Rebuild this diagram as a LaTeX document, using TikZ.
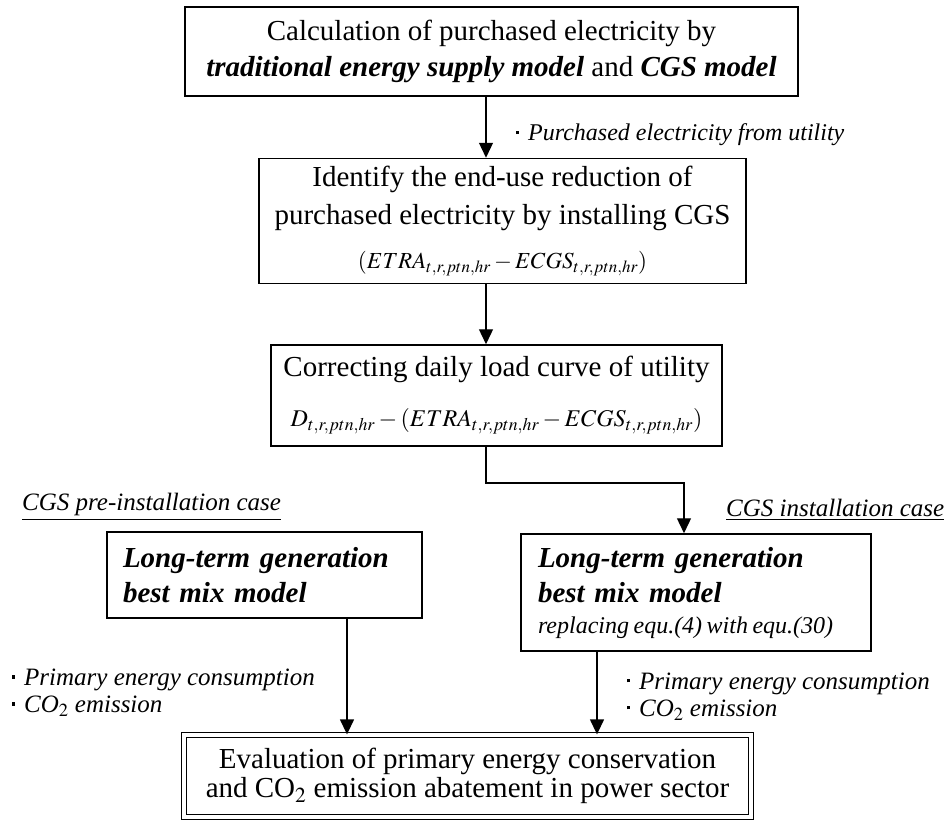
\documentclass[tikz,border=0pt]{standalone}
\usepackage{mathptmx}
\usepackage[no-math]{fontspec}
\setmainfont{Liberation Serif}
\usepackage{tikz}
\usetikzlibrary{arrows.meta,calc}
\frenchspacing
\newcommand\dotitem{\rule[0.28em]{3pt}{3.5pt}\hspace{9pt}}

\tikzset{
  box/.style={draw,line width=1.5pt,align=center,inner sep=0pt,font=\fontsize{29}{36}\selectfont},
  modelbox/.style={draw,line width=1.5pt,align=left,inner sep=0pt,font=\fontsize{29}{35}\selectfont\bfseries\itshape},
  lbl/.style={align=left,inner sep=0pt,font=\fontsize{25}{27}\selectfont\itshape},
  arr/.style={line width=1.3pt,-{Triangle[length=15pt,width=14pt]}}
}

\begin{document}
\begin{tikzpicture}[x=1pt,y=-1pt]
\useasboundingbox (0,0) rectangle (946,822);
\coordinate (col) at (486,0);
\node[box,minimum width=613pt,minimum height=89pt] (calc) at (491.5,51.5)
  {Calculation of purchased electricity by\\\textbf{\textit{traditional energy supply model}} and \textbf{\textit{CGS model}}};
\node[box,minimum width=487pt,minimum height=125pt,font=\fontsize{29}{38}\selectfont] (ident) at (502.5,221)
  {Identify the end-use reduction of\\purchased electricity by installing CGS\\[6pt]
   {\fontsize{23}{23}\selectfont$(ETRA_{t,r,ptn,hr}-ECGS_{t,r,ptn,hr})$}};
\node[box,minimum width=451pt,minimum height=101pt,font=\fontsize{29}{50}\selectfont] (corr) at (496.5,395.5)
  {Correcting daily load curve of utility\\
   {\fontsize{24}{24}\selectfont$D_{t,r,ptn,hr}-(ETRA_{t,r,ptn,hr}-ECGS_{t,r,ptn,hr})$}};
\node[modelbox,minimum width=315pt,minimum height=86pt,text width=283pt] (pre) at (264.5,575)
  {Long-term generation\\best mix model};
\node[modelbox,minimum width=350pt,minimum height=117pt,text width=316pt] (inst) at (696,592.5)
  {Long-term generation\\best mix model\\[-4pt]
   \mbox{\fontsize{24}{26}\selectfont\mdseries\itshape\spaceskip=4.5pt replacing equ.(4) with equ.(30)}};
\node[box,minimum width=567pt,minimum height=82pt,double,double distance=3.5pt,line width=1.3pt,font=\fontsize{29}{29}\selectfont] (eval) at (467.5,776)
  {Evaluation of primary energy conservation\\and CO$_2$ emission abatement in power sector};

% labels
\node[lbl,anchor=west,font=\fontsize{24}{26}\selectfont\itshape] (purch) at (516,135) {\dotitem Purchased electricity from utility};
\node[lbl,anchor=west] (precase) at (22,507) {\underline{CGS pre-installation case}};
\node[lbl,anchor=west] (instcase) at (726,510) {\underline{CGS installation case}};
\node[lbl,anchor=west] (preout) at (12,693) {\dotitem Primary energy consumption\\\dotitem CO$_2$ emission};
\node[lbl,anchor=west] (instout) at (627,696.5) {\dotitem Primary energy consumption\\\dotitem CO$_2$ emission};

% connectors
\coordinate (drop) at (684,483);
\draw[arr] (calc.south -| col) -- (ident.north -| col);
\draw[arr] (ident.south -| col) -- (corr.north -| col);
\draw[arr] (corr.south -| col) |- (drop) -- (drop |- inst.north);
\draw[arr] ([xshift=82.5pt]pre.south) -- ([xshift=82.5pt]pre.south |- eval.north);
\draw[arr] ([xshift=-99pt]inst.south) -- ([xshift=-99pt]inst.south |- eval.north);
\end{tikzpicture}
\end{document}
